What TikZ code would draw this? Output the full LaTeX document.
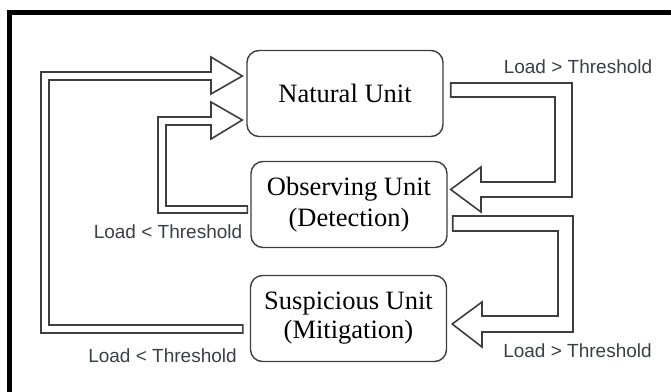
\documentclass[tikz,border=0pt]{standalone}
\usepackage{fontspec}
\setmainfont{Liberation Serif}
\newfontfamily\labelfont{Liberation Sans}
\usetikzlibrary{calc}

\definecolor{linegray}{RGB}{62,62,62}
\definecolor{labelgray}{RGB}{58,62,70}

\begin{document}
\begin{tikzpicture}[
    x=1pt, y=-1pt,
    unit_block/.style={
            rectangle,
            rounded corners=12pt,
            draw=linegray,
            line width=1.4pt,
            align=center,
            minimum width=196pt,
            minimum height=86pt,
            font=\fontsize{26.5}{31}\selectfont
        },
    hollow_arrow/.style={
            draw=linegray,
            line width=1.6pt,
            fill=white,
            line join=miter
        },
    cond_label/.style={
            inner sep=0pt,
            text=labelgray,
            font=\labelfont\fontsize{19}{22}\selectfont
        },
    frame/.style={line width=4.5pt, draw=black},
    ]

    \useasboundingbox (0,0) rectangle (671,391);
    \clip (0,0) rectangle (671,391);

    % --- Frame ---
    \draw[frame] (9.5,420) |- (700,12.5);

    % --- Units ---
    \node (nat_unit) [unit_block] at (345,93.5) {\raisebox{-3pt}{Natural Unit}};
    \node (obs_unit) [unit_block] at (349,204.5) {Observing Unit\\(Detection)};
    \node (susp_unit) [unit_block] at (348.5,318.5) {\raisebox{-2pt}{\shortstack{Suspicious Unit\\[2pt](Mitigation)}}};

    % --- Arrows ---
    \draw[hollow_arrow] ($(susp_unit.west)+(-7,6.5)$) -| (49,80) -- (211,80) -- (211,94)
        -- ($(nat_unit.west)+(-4,-17.5)$) -- (211,57) -- (211,72) -| (41,333)
        -- ($(susp_unit.west)+(-7,14.5)$) -- cycle;
    \draw[hollow_arrow] ($(obs_unit.west)+(-3,1.5)$) -| (166,125) -- (211,125) -- (211,139)
        -- ($(nat_unit.west)+(-4,26.5)$) -- (211,102) -- (211,117) -| (158,213)
        -- ($(obs_unit.west)+(-3,8.5)$) -- cycle;
    \draw[hollow_arrow] ($(nat_unit.east)+(7,-10.5)$) -| (572,197) -- (481,197) -- (481,212)
        -- ($(obs_unit.east)+(3,-15)$) -- (481,167) -- (481,182) -| (555,97)
        -- ($(nat_unit.east)+(7,3.5)$) -- cycle;
    \draw[hollow_arrow] ($(obs_unit.east)+(5,11.5)$) -| (573,332) -- (482,332) -- (482,347)
        -- ($(susp_unit.east)+(5,5.5)$) -- (482,302) -- (482,316) -| (558,231)
        -- ($(obs_unit.east)+(5,26.5)$) -- cycle;

    % --- Conditions ---
    \node (gt_top) [cond_label] at (578,67) {Load > Threshold};
    \node (lt_mid) [cond_label] at (168,232) {Load < Threshold};
    \node (lt_bottom) [cond_label] at (162.5,356) {Load < Threshold};
    \node (gt_bottom) [cond_label] at (577.5,351) {Load > Threshold};

\end{tikzpicture}
\end{document}
